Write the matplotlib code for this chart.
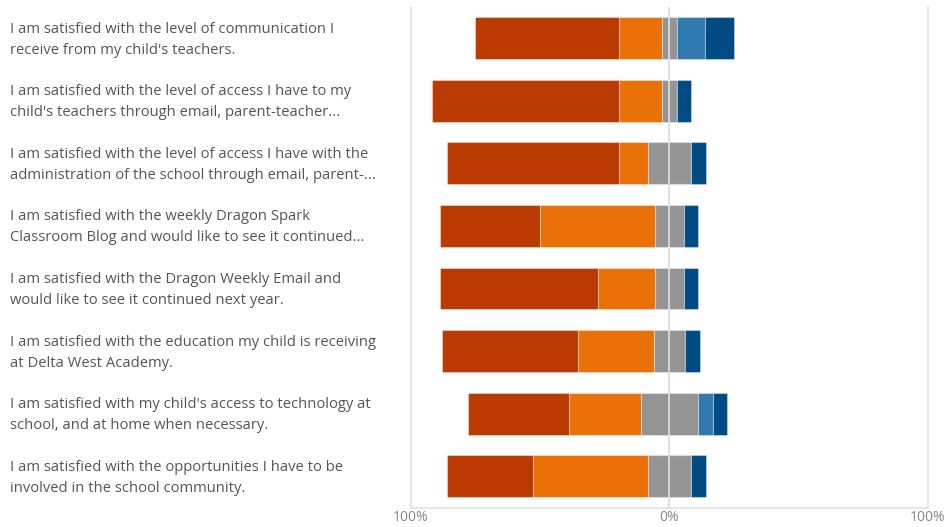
import numpy as np
import matplotlib.pyplot as plt

plt.rcParams['font.family'] = ['Open Sans', 'DejaVu Sans']

questions = [
    "I am satisfied with the level of communication I\nreceive from my child's teachers.",
    "I am satisfied with the level of access I have to my\nchild's teachers through email, parent-teacher...",
    "I am satisfied with the level of access I have with the\nadministration of the school through email, parent-...",
    "I am satisfied with the weekly Dragon Spark\nClassroom Blog and would like to see it continued...",
    "I am satisfied with the Dragon Weekly Email and\nwould like to see it continued next year.",
    "I am satisfied with the education my child is receiving\nat Delta West Academy.",
    "I am satisfied with my child's access to technology at\nschool, and at home when necessary.",
    "I am satisfied with the opportunities I have to be\ninvolved in the school community.",
]

# percent of responses per answer
strongly_agree = [55.6, 72.2, 66.7, 38.9, 61.1, 52.9, 38.9, 33.3]
agree = [16.7, 16.7, 11.1, 44.4, 22.2, 29.4, 27.8, 44.4]
neutral = [5.6, 5.6, 16.7, 11.1, 11.1, 11.8, 22.2, 16.7]
disagree = [11.1, 0.0, 0.0, 0.0, 0.0, 0.0, 5.6, 0.0]
strongly_disagree = [11.1, 5.6, 5.6, 5.6, 5.6, 5.9, 5.6, 5.6]

series = [strongly_agree, agree, neutral, disagree, strongly_disagree]
colors = ['#BA3A02', '#EA7008', '#949494', '#2E7AB1', '#004B84']

fig = plt.figure(figsize=(9.44, 5.27), dpi=100)
ax = fig.add_axes([0.4354, 0.037, 0.983 - 0.4354, 0.9867 - 0.037])

y = np.arange(len(questions))
vals = np.array(series)
# neutral is split evenly across the zero line
start = -(vals[0] + vals[1] + vals[2] / 2)
left = start.copy()
for v, c in zip(vals, colors):
    ax.barh(y, v, left=left, height=0.67, color=c,
            edgecolor=(1, 1, 1, 0.35), linewidth=0.8, zorder=2)
    left = left + v

ax.axvline(0, color='#dddddd', lw=1.3, zorder=3)

ax.set_xlim(-100, 100)
ax.set_ylim(len(questions) - 0.5, -0.5)
ax.set_yticks([])
ax.set_xticks([-100, 0, 100])
ax.set_xticklabels(['100%', '0%', '100%'])
ax.tick_params(axis='x', length=0, pad=2, labelsize=10, labelcolor='#888888')

for side in ['left', 'right', 'bottom']:
    ax.spines[side].set_color('#e3e3e3')
    ax.spines[side].set_linewidth(1.2)
ax.spines['top'].set_visible(False)

# question labels on the left
for i, q in enumerate(questions):
    yf = ax.transData.transform((0, i))[1]
    yf = fig.transFigure.inverted().transform((0, yf))[1]
    fig.text(10 / 944, yf - 1.5 / 527, q, ha='left', va='center', fontsize=10.6,
             color='#555555', linespacing=1.55)

fig.savefig('out.png', dpi=100)
